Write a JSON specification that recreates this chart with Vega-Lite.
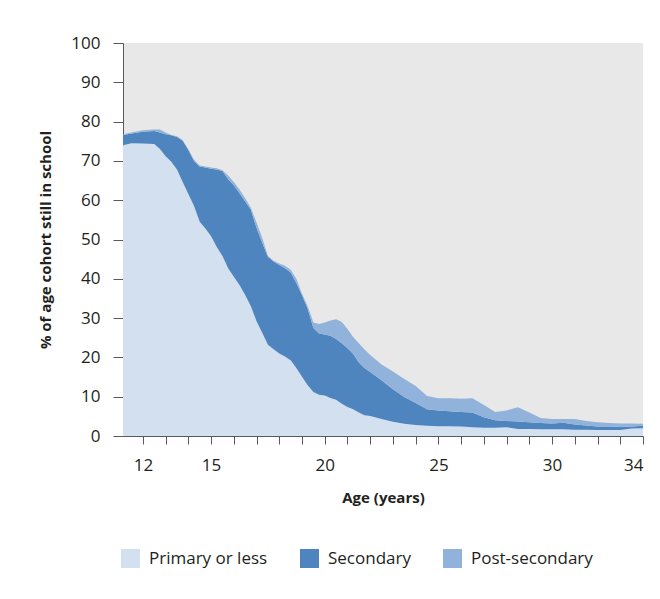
{
  "$schema": "https://vega.github.io/schema/vega-lite/v6.json",
  "autosize": {"type": "none"},
  "width": 520,
  "height": 393,
  "padding": {"left": 123, "top": 43, "right": 17, "bottom": 163},
  "background": "white",
  "config": {
    "view": {"fill": "#e8e8e8", "stroke": null},
    "font": "Open Sans",
    "axis": {"grid": false, "domainColor": "#58595b", "tickColor": "#58595b", "labelColor": "#231f20", "titleColor": "#231f20", "labelFont": "Open Sans", "titleFont": "Open Sans"},
    "legend": {"labelFont": "Open Sans", "labelColor": "#231f20"}
  },
  "data": {"values": [
    {"age": 11.125, "level": "Primary or less", "pct": 74.0}, {"age": 11.125, "level": "Secondary", "pct": 2.6}, {"age": 11.125, "level": "Post-secondary", "pct": 0.2},
    {"age": 11.5, "level": "Primary or less", "pct": 74.5}, {"age": 11.5, "level": "Secondary", "pct": 2.5}, {"age": 11.5, "level": "Post-secondary", "pct": 0.2},
    {"age": 12.0, "level": "Primary or less", "pct": 74.4}, {"age": 12.0, "level": "Secondary", "pct": 3.0}, {"age": 12.0, "level": "Post-secondary", "pct": 0.4},
    {"age": 12.5, "level": "Primary or less", "pct": 74.3}, {"age": 12.5, "level": "Secondary", "pct": 3.3}, {"age": 12.5, "level": "Post-secondary", "pct": 0.4},
    {"age": 12.75, "level": "Primary or less", "pct": 73.0}, {"age": 12.75, "level": "Secondary", "pct": 4.2}, {"age": 12.75, "level": "Post-secondary", "pct": 0.8},
    {"age": 13.0, "level": "Primary or less", "pct": 71.2}, {"age": 13.0, "level": "Secondary", "pct": 5.6}, {"age": 13.0, "level": "Post-secondary", "pct": 0.4},
    {"age": 13.25, "level": "Primary or less", "pct": 69.8}, {"age": 13.25, "level": "Secondary", "pct": 6.7}, {"age": 13.25, "level": "Post-secondary", "pct": 0.1},
    {"age": 13.5, "level": "Primary or less", "pct": 67.8}, {"age": 13.5, "level": "Secondary", "pct": 8.3}, {"age": 13.5, "level": "Post-secondary", "pct": 0.2},
    {"age": 13.75, "level": "Primary or less", "pct": 64.6}, {"age": 13.75, "level": "Secondary", "pct": 10.5}, {"age": 13.75, "level": "Post-secondary", "pct": 0.2},
    {"age": 14.0, "level": "Primary or less", "pct": 61.6}, {"age": 14.0, "level": "Secondary", "pct": 11.2}, {"age": 14.0, "level": "Post-secondary", "pct": 0.1},
    {"age": 14.25, "level": "Primary or less", "pct": 58.5}, {"age": 14.25, "level": "Secondary", "pct": 11.5}, {"age": 14.25, "level": "Post-secondary", "pct": 0.3},
    {"age": 14.5, "level": "Primary or less", "pct": 54.5}, {"age": 14.5, "level": "Secondary", "pct": 14.1}, {"age": 14.5, "level": "Post-secondary", "pct": 0.2},
    {"age": 14.75, "level": "Primary or less", "pct": 52.8}, {"age": 14.75, "level": "Secondary", "pct": 15.5}, {"age": 14.75, "level": "Post-secondary", "pct": 0.3},
    {"age": 15.0, "level": "Primary or less", "pct": 50.8}, {"age": 15.0, "level": "Secondary", "pct": 17.2}, {"age": 15.0, "level": "Post-secondary", "pct": 0.3},
    {"age": 15.25, "level": "Primary or less", "pct": 48.1}, {"age": 15.25, "level": "Secondary", "pct": 19.7}, {"age": 15.25, "level": "Post-secondary", "pct": 0.3},
    {"age": 15.5, "level": "Primary or less", "pct": 45.8}, {"age": 15.5, "level": "Secondary", "pct": 21.6}, {"age": 15.5, "level": "Post-secondary", "pct": 0.2},
    {"age": 15.75, "level": "Primary or less", "pct": 42.7}, {"age": 15.75, "level": "Secondary", "pct": 22.6}, {"age": 15.75, "level": "Post-secondary", "pct": 1.0},
    {"age": 16.0, "level": "Primary or less", "pct": 40.5}, {"age": 16.0, "level": "Secondary", "pct": 23.3}, {"age": 16.0, "level": "Post-secondary", "pct": 0.8},
    {"age": 16.25, "level": "Primary or less", "pct": 38.4}, {"age": 16.25, "level": "Secondary", "pct": 23.4}, {"age": 16.25, "level": "Post-secondary", "pct": 0.9},
    {"age": 16.5, "level": "Primary or less", "pct": 35.9}, {"age": 16.5, "level": "Secondary", "pct": 23.8}, {"age": 16.5, "level": "Post-secondary", "pct": 0.8},
    {"age": 16.75, "level": "Primary or less", "pct": 33.0}, {"age": 16.75, "level": "Secondary", "pct": 24.6}, {"age": 16.75, "level": "Post-secondary", "pct": 0.5},
    {"age": 17.0, "level": "Primary or less", "pct": 29.2}, {"age": 17.0, "level": "Secondary", "pct": 23.7}, {"age": 17.0, "level": "Post-secondary", "pct": 1.4},
    {"age": 17.25, "level": "Primary or less", "pct": 26.3}, {"age": 17.25, "level": "Secondary", "pct": 22.9}, {"age": 17.25, "level": "Post-secondary", "pct": 1.2},
    {"age": 17.5, "level": "Primary or less", "pct": 23.2}, {"age": 17.5, "level": "Secondary", "pct": 22.4}, {"age": 17.5, "level": "Post-secondary", "pct": 0.2},
    {"age": 17.75, "level": "Primary or less", "pct": 22.1}, {"age": 17.75, "level": "Secondary", "pct": 22.3}, {"age": 17.75, "level": "Post-secondary", "pct": 0.2},
    {"age": 18.0, "level": "Primary or less", "pct": 21.0}, {"age": 18.0, "level": "Secondary", "pct": 22.5}, {"age": 18.0, "level": "Post-secondary", "pct": 0.4},
    {"age": 18.25, "level": "Primary or less", "pct": 20.2}, {"age": 18.25, "level": "Secondary", "pct": 22.5}, {"age": 18.25, "level": "Post-secondary", "pct": 0.6},
    {"age": 18.5, "level": "Primary or less", "pct": 19.3}, {"age": 18.5, "level": "Secondary", "pct": 22.3}, {"age": 18.5, "level": "Post-secondary", "pct": 0.7},
    {"age": 18.75, "level": "Primary or less", "pct": 17.3}, {"age": 18.75, "level": "Secondary", "pct": 21.6}, {"age": 18.75, "level": "Post-secondary", "pct": 1.1},
    {"age": 19.0, "level": "Primary or less", "pct": 15.1}, {"age": 19.0, "level": "Secondary", "pct": 20.7}, {"age": 19.0, "level": "Post-secondary", "pct": 0.4},
    {"age": 19.25, "level": "Primary or less", "pct": 12.9}, {"age": 19.25, "level": "Secondary", "pct": 19.5}, {"age": 19.25, "level": "Post-secondary", "pct": 0.6},
    {"age": 19.5, "level": "Primary or less", "pct": 11.2}, {"age": 19.5, "level": "Secondary", "pct": 16.3}, {"age": 19.5, "level": "Post-secondary", "pct": 1.4},
    {"age": 19.75, "level": "Primary or less", "pct": 10.5}, {"age": 19.75, "level": "Secondary", "pct": 15.6}, {"age": 19.75, "level": "Post-secondary", "pct": 2.4},
    {"age": 20.0, "level": "Primary or less", "pct": 10.3}, {"age": 20.0, "level": "Secondary", "pct": 15.5}, {"age": 20.0, "level": "Post-secondary", "pct": 3.1},
    {"age": 20.25, "level": "Primary or less", "pct": 9.7}, {"age": 20.25, "level": "Secondary", "pct": 15.8}, {"age": 20.25, "level": "Post-secondary", "pct": 3.9},
    {"age": 20.5, "level": "Primary or less", "pct": 9.2}, {"age": 20.5, "level": "Secondary", "pct": 15.5}, {"age": 20.5, "level": "Post-secondary", "pct": 5.0},
    {"age": 20.75, "level": "Primary or less", "pct": 8.2}, {"age": 20.75, "level": "Secondary", "pct": 15.4}, {"age": 20.75, "level": "Post-secondary", "pct": 5.4},
    {"age": 21.0, "level": "Primary or less", "pct": 7.4}, {"age": 21.0, "level": "Secondary", "pct": 14.9}, {"age": 21.0, "level": "Post-secondary", "pct": 4.9},
    {"age": 21.25, "level": "Primary or less", "pct": 6.8}, {"age": 21.25, "level": "Secondary", "pct": 14.1}, {"age": 21.25, "level": "Post-secondary", "pct": 4.3},
    {"age": 21.5, "level": "Primary or less", "pct": 6.0}, {"age": 21.5, "level": "Secondary", "pct": 12.7}, {"age": 21.5, "level": "Post-secondary", "pct": 4.9},
    {"age": 21.75, "level": "Primary or less", "pct": 5.3}, {"age": 21.75, "level": "Secondary", "pct": 12.0}, {"age": 21.75, "level": "Post-secondary", "pct": 4.7},
    {"age": 22.0, "level": "Primary or less", "pct": 5.1}, {"age": 22.0, "level": "Secondary", "pct": 11.2}, {"age": 22.0, "level": "Post-secondary", "pct": 4.3},
    {"age": 22.5, "level": "Primary or less", "pct": 4.3}, {"age": 22.5, "level": "Secondary", "pct": 9.9}, {"age": 22.5, "level": "Post-secondary", "pct": 4.0},
    {"age": 23.0, "level": "Primary or less", "pct": 3.6}, {"age": 23.0, "level": "Secondary", "pct": 8.3}, {"age": 23.0, "level": "Post-secondary", "pct": 4.5},
    {"age": 23.5, "level": "Primary or less", "pct": 3.1}, {"age": 23.5, "level": "Secondary", "pct": 6.8}, {"age": 23.5, "level": "Post-secondary", "pct": 4.6},
    {"age": 24.0, "level": "Primary or less", "pct": 2.8}, {"age": 24.0, "level": "Secondary", "pct": 5.6}, {"age": 24.0, "level": "Post-secondary", "pct": 4.3},
    {"age": 24.5, "level": "Primary or less", "pct": 2.6}, {"age": 24.5, "level": "Secondary", "pct": 4.2}, {"age": 24.5, "level": "Post-secondary", "pct": 3.4},
    {"age": 25.0, "level": "Primary or less", "pct": 2.5}, {"age": 25.0, "level": "Secondary", "pct": 4.0}, {"age": 25.0, "level": "Post-secondary", "pct": 3.1},
    {"age": 25.5, "level": "Primary or less", "pct": 2.5}, {"age": 25.5, "level": "Secondary", "pct": 3.8}, {"age": 25.5, "level": "Post-secondary", "pct": 3.3},
    {"age": 26.0, "level": "Primary or less", "pct": 2.4}, {"age": 26.0, "level": "Secondary", "pct": 3.7}, {"age": 26.0, "level": "Post-secondary", "pct": 3.4},
    {"age": 26.5, "level": "Primary or less", "pct": 2.2}, {"age": 26.5, "level": "Secondary", "pct": 3.8}, {"age": 26.5, "level": "Post-secondary", "pct": 3.6},
    {"age": 27.0, "level": "Primary or less", "pct": 2.1}, {"age": 27.0, "level": "Secondary", "pct": 2.7}, {"age": 27.0, "level": "Post-secondary", "pct": 3.1},
    {"age": 27.5, "level": "Primary or less", "pct": 2.1}, {"age": 27.5, "level": "Secondary", "pct": 1.9}, {"age": 27.5, "level": "Post-secondary", "pct": 2.1},
    {"age": 28.0, "level": "Primary or less", "pct": 2.2}, {"age": 28.0, "level": "Secondary", "pct": 1.6}, {"age": 28.0, "level": "Post-secondary", "pct": 2.7},
    {"age": 28.5, "level": "Primary or less", "pct": 1.8}, {"age": 28.5, "level": "Secondary", "pct": 1.9}, {"age": 28.5, "level": "Post-secondary", "pct": 3.6},
    {"age": 29.0, "level": "Primary or less", "pct": 1.8}, {"age": 29.0, "level": "Secondary", "pct": 1.7}, {"age": 29.0, "level": "Post-secondary", "pct": 2.5},
    {"age": 29.5, "level": "Primary or less", "pct": 1.7}, {"age": 29.5, "level": "Secondary", "pct": 1.6}, {"age": 29.5, "level": "Post-secondary", "pct": 1.3},
    {"age": 30.0, "level": "Primary or less", "pct": 1.7}, {"age": 30.0, "level": "Secondary", "pct": 1.5}, {"age": 30.0, "level": "Post-secondary", "pct": 1.1},
    {"age": 30.5, "level": "Primary or less", "pct": 1.7}, {"age": 30.5, "level": "Secondary", "pct": 1.7}, {"age": 30.5, "level": "Post-secondary", "pct": 0.9},
    {"age": 31.0, "level": "Primary or less", "pct": 1.6}, {"age": 31.0, "level": "Secondary", "pct": 1.3}, {"age": 31.0, "level": "Post-secondary", "pct": 1.4},
    {"age": 31.5, "level": "Primary or less", "pct": 1.6}, {"age": 31.5, "level": "Secondary", "pct": 1.1}, {"age": 31.5, "level": "Post-secondary", "pct": 1.1},
    {"age": 32.0, "level": "Primary or less", "pct": 1.5}, {"age": 32.0, "level": "Secondary", "pct": 0.9}, {"age": 32.0, "level": "Post-secondary", "pct": 1.1},
    {"age": 32.5, "level": "Primary or less", "pct": 1.5}, {"age": 32.5, "level": "Secondary", "pct": 0.9}, {"age": 32.5, "level": "Post-secondary", "pct": 0.9},
    {"age": 33.0, "level": "Primary or less", "pct": 1.5}, {"age": 33.0, "level": "Secondary", "pct": 0.8}, {"age": 33.0, "level": "Post-secondary", "pct": 0.9},
    {"age": 33.5, "level": "Primary or less", "pct": 1.9}, {"age": 33.5, "level": "Secondary", "pct": 0.5}, {"age": 33.5, "level": "Post-secondary", "pct": 0.8},
    {"age": 34.0, "level": "Primary or less", "pct": 2.0}, {"age": 34.0, "level": "Secondary", "pct": 0.6}, {"age": 34.0, "level": "Post-secondary", "pct": 0.5}
  ]},
  "transform": [
    {"calculate": "indexof(['Primary or less', 'Secondary', 'Post-secondary'], datum.level)", "as": "stackOrder"}
  ],
  "mark": {"type": "area", "interpolate": "linear"},
  "encoding": {
    "x": {
      "field": "age", "type": "quantitative",
      "scale": {"domain": [11.125, 34], "nice": false, "zero": false},
      "axis": {
        "values": [12,13,14,15,16,17,18,19,20,21,22,23,24,25,26,27,28,29,30,31,32,33,34],
        "labelExpr": "indexof([12,15,20,25,30,34], datum.value) >= 0 ? datum.label : ''",
        "labelOverlap": false,
        "labelFontSize": 17,
        "labelPadding": 13,
        "labelDx": -8,
        "tickSize": 8,
        "title": "Age (years)",
        "titleFontSize": 15,
        "titleFontWeight": "bold",
        "titlePadding": 17
      }
    },
    "y": {
      "field": "pct", "type": "quantitative", "stack": "zero",
      "scale": {"domain": [0, 100], "nice": false},
      "axis": {
        "values": [0,10,20,30,40,50,60,70,80,90,100],
        "labelFontSize": 17,
        "labelPadding": 13,
        "tickSize": 10,
        "title": "% of age cohort still in school",
        "titleFontSize": 15,
        "titleFontWeight": "bold",
        "titlePadding": 17
      }
    },
    "color": {
      "field": "level", "type": "nominal",
      "sort": ["Primary or less", "Secondary", "Post-secondary"],
      "scale": {"domain": ["Primary or less", "Secondary", "Post-secondary"], "range": ["#d3e0f0", "#4f85bf", "#91b2da"]},
      "legend": {
        "title": null,
        "orient": "none",
        "direction": "horizontal",
        "legendX": -2,
        "legendY": 506,
        "symbolType": "square",
        "symbolSize": 361,
        "symbolStrokeWidth": 0,
        "symbolOpacity": 1,
        "labelFontSize": 17,
        "labelOffset": 9,
        "columnPadding": 32
      }
    },
    "order": {"field": "stackOrder", "type": "quantitative", "sort": "ascending"}
  }
}
